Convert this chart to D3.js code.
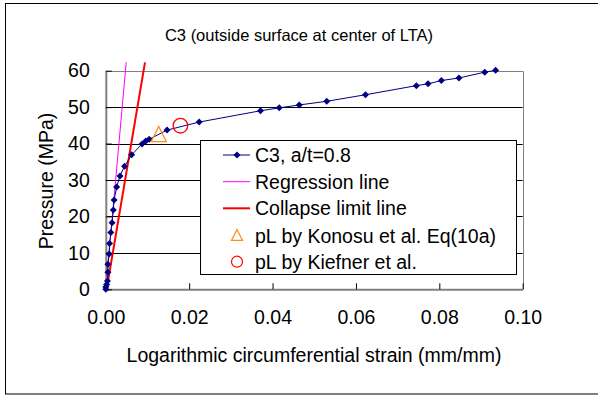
<!DOCTYPE html>
<html><head><meta charset="utf-8">
<script src="https://cdn.jsdelivr.net/npm/d3@7"></script>
<style>body{margin:0;background:#fff}svg{display:block;font-family:"Liberation Sans",Arial,sans-serif}</style>
</head><body>
<script>
const strain = [0, 0.0000, 0.0002, 0.0004, 0.0005, 0.0005, 0.0008, 0.0009, 0.0012, 0.0015, 0.0018, 0.0020, 0.0026, 0.0034, 0.0045, 0.0062, 0.0087, 0.0096, 0.0104, 0.0147, 0.0224, 0.0371, 0.0416, 0.0464, 0.0530, 0.0623, 0.0745, 0.0773, 0.0805, 0.0847, 0.0909, 0.0935];
const pressure = [0, 0.6, 1.3, 2.3, 4.7, 6.9, 9.7, 12.6, 15.6, 18.3, 21.8, 24.5, 28.1, 31.1, 33.8, 36.9, 39.9, 40.7, 41.2, 43.7, 45.9, 49.0, 49.8, 50.6, 51.6, 53.4, 55.9, 56.4, 57.3, 58.0, 59.6, 60.1];
const regressionStrain = [0, 0.0049];
const regressionPressure = [0, 62.3];
const collapseStrain = [0.0002, 0.0094];
const collapsePressure = [0, 62.3];
const konosuPoint = [0.0127, 42.4];
const kiefnerPoint = [0.0179, 44.9];
const xTicks = [0, 0.02, 0.04, 0.06, 0.08, 0.10];
const yTicks = [0, 10, 20, 30, 40, 50, 60];
const legendLabels = ["C3, a/t=0.8", "Regression line", "Collapse limit line", "pL by Konosu et al. Eq(10a)", "pL by Kiefner et al."];

const W = 598, H = 396, FS = 19.5;
const svg = d3.select("body").append("svg").attr("width", W).attr("height", H);
svg.append("rect").attr("x", 5.5).attr("y", 3.5).attr("width", 620).attr("height", 390.5)
  .attr("fill", "#fff").attr("stroke", "#000");

const x = d3.scaleLinear().domain([0, 0.1]).range([105.8, 522.7]);
const y = d3.scaleLinear().domain([0, 60]).range([289.3, 70.7]);

svg.append("text").attr("x", 299).attr("y", 41).attr("text-anchor", "middle")
  .attr("font-size", 16.5).text("C3 (outside surface at center of LTA)");

// gridlines
svg.append("g").selectAll("line").data(yTicks.filter(d => d > 0 && d < 60)).join("line")
  .attr("x1", x(0)).attr("x2", x(0.1)).attr("y1", d => Math.round(y(d)) + 0.5).attr("y2", d => Math.round(y(d)) + 0.5)
  .attr("stroke", "#000").attr("stroke-width", 1);
// plot border top/right
svg.append("path").attr("d", `M${x(0)},${Math.round(y(60))+0.5}H${Math.round(x(0.1))+0.5}V${y(0)}`)
  .attr("fill", "none").attr("stroke", "#808080");

// axes
const xAxis = d3.axisBottom(x).tickValues(xTicks).tickFormat(d3.format(".2f")).tickSizeInner(-6).tickSizeOuter(0).tickPadding(21);
const gx = svg.append("g").attr("transform", `translate(0,${y(0)})`).call(xAxis);
gx.select(".domain").attr("stroke", "#808080").attr("stroke-width", 2);
gx.selectAll(".tick line").attr("stroke", "#000");
gx.selectAll("text").attr("font-size", FS).attr("fill", "#000").attr("font-family", "Liberation Sans, Arial, sans-serif");

const yAxis = d3.axisLeft(y).tickValues(yTicks).tickFormat(d3.format("d")).tickSizeInner(-6).tickSizeOuter(0).tickPadding(16);
const gy = svg.append("g").attr("transform", `translate(${x(0)},0)`).call(yAxis);
gy.select(".domain").attr("stroke", "#808080").attr("stroke-width", 2);
gy.selectAll(".tick line").attr("stroke", "#000");
gy.selectAll("text").attr("font-size", FS).attr("fill", "#000").attr("font-family", "Liberation Sans, Arial, sans-serif");

svg.append("text").attr("x", 314).attr("y", 362).attr("text-anchor", "middle").attr("font-size", FS)
  .text("Logarithmic circumferential strain (mm/mm)");
svg.append("text").attr("transform", "translate(53,181) rotate(-90)").attr("text-anchor", "middle").attr("font-size", FS)
  .text("Pressure (MPa)");

const line = d3.line().x(d => x(d[0])).y(d => y(d[1]));
// regression + collapse
svg.append("path").datum(d3.zip(regressionStrain, regressionPressure)).attr("d", line)
  .attr("fill", "none").attr("stroke", "#ff00ff").attr("stroke-width", 1);
svg.append("path").datum(d3.zip(collapseStrain, collapsePressure)).attr("d", line)
  .attr("fill", "none").attr("stroke", "#ff0000").attr("stroke-width", 2);

// data series
const series = d3.zip(strain, pressure);
svg.append("path").datum(series).attr("d", line).attr("fill", "none").attr("stroke", "#000080").attr("stroke-width", 1);
const diamond = "M0,-3.5L3.5,0L0,3.5L-3.5,0Z";
svg.append("g").selectAll("path").data(series).join("path")
  .attr("transform", d => `translate(${x(d[0])},${y(d[1])})`).attr("d", diamond).attr("fill", "#000080");

// single markers
const tri = s => `M0,${-s*0.55}L${s/2},${s*0.45}L${-s/2},${s*0.45}Z`;
svg.append("path").attr("transform", `translate(${x(konosuPoint[0])},${y(konosuPoint[1])})`).attr("d", tri(15))
  .attr("fill", "none").attr("stroke", "#ff8c1a").attr("stroke-width", 1.3);
svg.append("circle").attr("cx", x(kiefnerPoint[0])).attr("cy", y(kiefnerPoint[1])).attr("r", 7.3)
  .attr("fill", "none").attr("stroke", "#ff0000").attr("stroke-width", 1.3);

// legend
const lg = svg.append("g");
lg.append("rect").attr("x", 200.5).attr("y", 140.5).attr("width", 316).attr("height", 134)
  .attr("fill", "#fff").attr("stroke", "#000");
const rows = [155, 181.7, 208.3, 235.5, 261.7];
legendLabels.forEach((t, i) => {
  lg.append("text").attr("x", 255).attr("y", rows[i] + 7).attr("font-size", FS).text(t);
});
lg.append("line").attr("x1", 223).attr("x2", 250).attr("y1", rows[0]).attr("y2", rows[0]).attr("stroke", "#000080");
lg.append("path").attr("transform", `translate(237,${rows[0]})`).attr("d", diamond).attr("fill", "#000080");
lg.append("line").attr("x1", 223).attr("x2", 250).attr("y1", rows[1]).attr("y2", rows[1]).attr("stroke", "#ff00ff");
lg.append("line").attr("x1", 223).attr("x2", 250).attr("y1", rows[2]).attr("y2", rows[2]).attr("stroke", "#ff0000").attr("stroke-width", 2);
lg.append("path").attr("transform", `translate(237,${rows[3]})`).attr("d", tri(11))
  .attr("fill", "none").attr("stroke", "#ff8c1a").attr("stroke-width", 1.2);
lg.append("circle").attr("cx", 237).attr("cy", rows[4]).attr("r", 5.5)
  .attr("fill", "none").attr("stroke", "#ff0000").attr("stroke-width", 1.2);
</script>
</body></html>
